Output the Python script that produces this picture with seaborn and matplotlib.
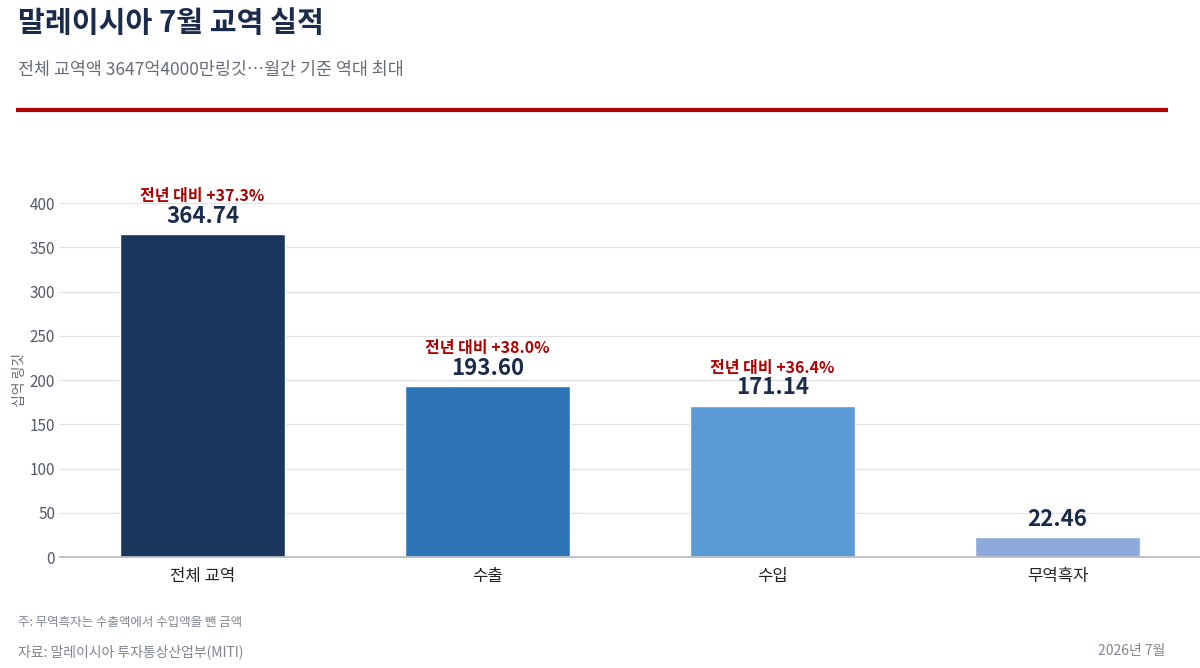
import matplotlib
matplotlib.use("Agg")
import matplotlib.pyplot as plt
import seaborn as sns
import pandas as pd

categories = ["전체 교역", "수출", "수입", "무역흑자"]
values = [364.74, 193.60, 171.14, 22.46]
growth = ["전년 대비 +37.3%", "전년 대비 +38.0%", "전년 대비 +36.4%", None]
colors = ["#1a365d", "#2e75b6", "#5b9bd5", "#8eaadc"]

sns.set_theme(style="whitegrid")
plt.rcParams["font.family"] = ["Noto Sans CJK KR", "DejaVu Sans"]

df = pd.DataFrame({"cat": categories, "val": values})

fig = plt.figure(figsize=(12, 6.68), dpi=100)
ax = fig.add_axes([0.05, 0.166, 0.95, 0.53])
sns.barplot(data=df, x="cat", y="val", hue="cat", palette=colors, legend=False,
            width=0.58, ax=ax, saturation=1)

ax.set_ylim(0, 400)
ax.set_xlim(-0.5, 3.5)
ax.set_yticks(range(0, 401, 50))
ax.grid(axis="y", color="#e0e0e8", linewidth=0.9)
ax.grid(axis="x", visible=False)
for s in ["top", "right", "left"]:
    ax.spines[s].set_visible(False)
ax.spines["bottom"].set_color("#b8bcc8")
ax.tick_params(axis="y", labelsize=11, colors="#555b66", length=0)
ax.tick_params(axis="x", labelsize=12, colors="#222222", length=0, pad=8)
ax.set_xlabel("")
ax.set_ylabel("십억 링깃", fontsize=10, color="#666c77", labelpad=2)

for i, (v, g) in enumerate(zip(values, growth)):
    ax.text(i, v + 7, f"{v:.2f}", ha="center", va="bottom", fontsize=16,
            fontweight="bold", color="#1a2b4c")
    if g:
        ax.text(i, v + 34, g, ha="center", va="bottom", fontsize=11.5,
                fontweight="bold", color="#b00000")

fig.text(0.015, 0.965, "말레이시아 7월 교역 실적", fontsize=21, fontweight="bold",
         color="#1a2b4c", va="center")
fig.text(0.015, 0.895, "전체 교역액 3647억4000만링깃…월간 기준 역대 최대", fontsize=12.5,
         color="#666c77", va="center")
fig.add_artist(plt.Line2D([0.013, 0.973], [0.836, 0.836], color="#b00000",
                          linewidth=3, solid_capstyle="butt",
                          transform=fig.transFigure))
fig.text(0.015, 0.068, "주: 무역흑자는 수출액에서 수입액을 뺀 금액", fontsize=9,
         color="#80858f", va="center")
fig.text(0.015, 0.025, "자료: 말레이시아 투자통상산업부(MITI)", fontsize=10,
         color="#80858f", va="center")
fig.text(0.971, 0.025, "2026년 7월", fontsize=10, color="#80858f", va="center", ha="right")

fig.savefig("out.png", dpi=100)
